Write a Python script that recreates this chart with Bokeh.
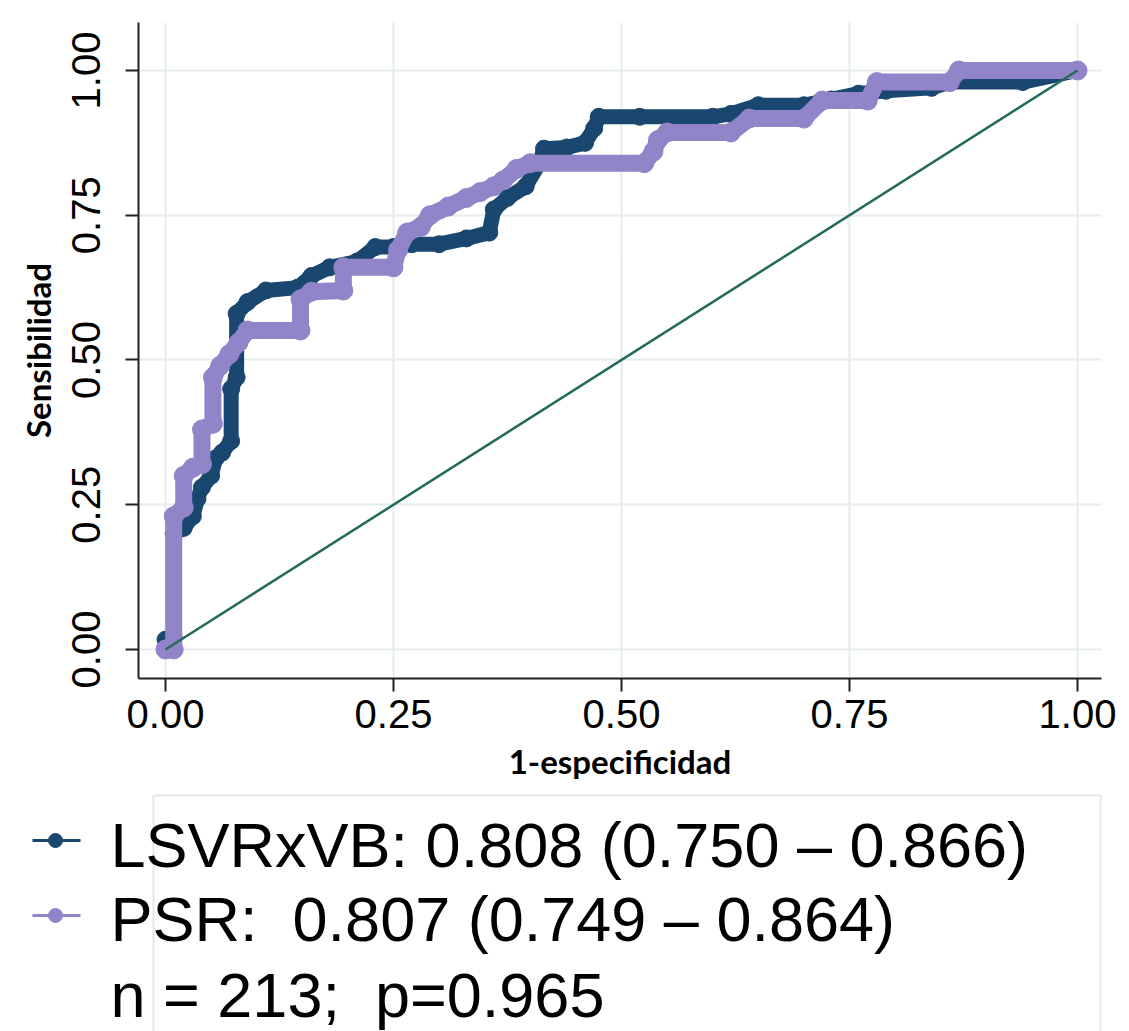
from bokeh.plotting import figure
from bokeh.layouts import column
from bokeh.models import Range1d, FixedTicker, NumeralTickFormatter
from bokeh.core.properties import value
from bokeh.embed import file_html
from bokeh.resources import INLINE

# ROC curve points (1 - specificity, sensitivity)
lsvr_fpr = [0.0, 0.0, 0.009, 0.009, 0.02, 0.03, 0.035, 0.04, 0.05, 0.055,
            0.062, 0.072, 0.072, 0.078, 0.078, 0.09, 0.11, 0.145, 0.16, 0.18,
            0.21, 0.23, 0.25, 0.27, 0.30, 0.33, 0.355, 0.36, 0.375, 0.395,
            0.41, 0.415, 0.44, 0.46, 0.47, 0.475, 0.52, 0.60, 0.62, 0.65,
            0.70, 0.73, 0.76, 0.79, 0.84, 0.86, 0.94, 1.0]
lsvr_tpr = [0.0, 0.017, 0.02, 0.20, 0.21, 0.23, 0.26, 0.28, 0.30, 0.33,
            0.34, 0.36, 0.45, 0.47, 0.58, 0.60, 0.62, 0.625, 0.645, 0.66,
            0.67, 0.695, 0.695, 0.70, 0.70, 0.71, 0.72, 0.76, 0.78, 0.80,
            0.84, 0.865, 0.867, 0.875, 0.90, 0.92, 0.92, 0.92, 0.925, 0.94,
            0.94, 0.95, 0.96, 0.965, 0.97, 0.98, 0.98, 1.0]

psr_fpr = [0.0, 0.009, 0.009, 0.02, 0.02, 0.03, 0.04, 0.04, 0.052, 0.052,
           0.06, 0.07, 0.08, 0.09, 0.148, 0.148, 0.16, 0.195, 0.195, 0.25,
           0.255, 0.265, 0.28, 0.29, 0.31, 0.33, 0.345, 0.36, 0.37, 0.385,
           0.40, 0.525, 0.535, 0.54, 0.55, 0.62, 0.64, 0.70, 0.72, 0.77,
           0.78, 0.86, 0.87, 1.0]
psr_tpr = [0.0, 0.0, 0.23, 0.245, 0.30, 0.314, 0.32, 0.38, 0.39, 0.47,
           0.49, 0.51, 0.53, 0.551, 0.551, 0.605, 0.618, 0.62, 0.66, 0.66,
           0.69, 0.72, 0.73, 0.75, 0.765, 0.78, 0.79, 0.80, 0.81, 0.83,
           0.84, 0.84, 0.86, 0.88, 0.893, 0.893, 0.917, 0.917, 0.948, 0.948,
           0.98, 0.98, 1.0, 1.0]

# reference (chance) line
ref_x = [0.0, 1.0]
ref_y = [0.0, 1.0]

axis_ticks = [0.0, 0.25, 0.5, 0.75, 1.0]

legend_lines = ["LSVRxVB: 0.808 (0.750 \u2013 0.866)",
                "PSR:\u00a0 0.807 (0.749 \u2013 0.864)",
                "n = 213;\u00a0 p=0.965"]

NAVY = "#1a476f"
LAVENDER = "#9184c9"
REF_GREEN = "#24695a"
GRID = "#e4ecee"
AXIS = "#222222"

p = figure(width=1129, height=790,
           x_range=Range1d(-0.0296, 1.0263), y_range=Range1d(-0.0501, 1.0829),
           output_backend="svg", toolbar_location=None,
           min_border_left=138, min_border_right=28,
           min_border_top=22, min_border_bottom=112)
p.frame_align = False
p.outline_line_color = None
p.background_fill_color = "white"
p.border_fill_color = "white"

for ax in (p.xaxis, p.yaxis):
    ax.ticker = FixedTicker(ticks=axis_ticks)
    ax.formatter = NumeralTickFormatter(format="0.00")
    ax.axis_line_color = AXIS
    ax.axis_line_width = 2
    ax.major_tick_line_color = AXIS
    ax.major_tick_line_width = 2
    ax.major_tick_out = 13
    ax.major_tick_in = 0
    ax.minor_tick_line_color = None
    ax.major_label_text_font = "Liberation Sans"
    ax.major_label_text_font_size = "40px"
    ax.major_label_text_color = "black"
    ax.axis_label_text_font = "Lato"
    ax.axis_label_text_font_style = "bold"
    ax.axis_label_text_font_size = "33px"
    ax.axis_label_text_color = "black"

p.xaxis.axis_label = "1-especificidad"
p.yaxis.axis_label = "Sensibilidad"
p.xaxis.major_label_standoff = 8
p.yaxis.major_label_standoff = 25
p.yaxis.major_label_orientation = "vertical"
p.xaxis.axis_label_standoff = 10
p.yaxis.axis_label_standoff = 12

for g in (p.xgrid, p.ygrid):
    g.ticker = FixedTicker(ticks=axis_ticks)
    g.grid_line_color = GRID
    g.grid_line_width = 2

p.line(lsvr_fpr, lsvr_tpr, line_width=15, color=NAVY,
       line_join="round", line_cap="round")
p.scatter(lsvr_fpr, lsvr_tpr, size=17, color=NAVY)

p.line(psr_fpr, psr_tpr, line_width=17, color=LAVENDER,
       line_join="round", line_cap="round")
p.scatter(psr_fpr, psr_tpr, size=19, color=LAVENDER)

p.line(ref_x, ref_y, line_width=2.5, color=REF_GREEN)

# legend panel underneath the plot (pixel-like coordinates, y grows downward)
q = figure(width=1129, height=241,
           x_range=Range1d(0, 1129), y_range=Range1d(241, 0),
           output_backend="svg", toolbar_location=None,
           x_axis_location=None, y_axis_location=None, min_border=0)
q.frame_align = False
q.grid.visible = False
q.outline_line_color = None
q.border_fill_color = "white"

q.quad(left=[153], right=[1100], top=[5], bottom=[300],
       fill_color=None, line_color="#e3e8ea", line_width=2)

q.line([32, 80], [50, 50], line_width=3, color=NAVY)
q.scatter([55], [50], size=14, color=NAVY)
q.line([32, 80], [125, 125], line_width=3, color=LAVENDER)
q.scatter([55], [125], size=14, color=LAVENDER)

q.text(x=[110, 110, 110], y=[54, 128, 204], text=legend_lines,
       text_font=value("Liberation Sans"), text_font_size="63px",
       text_baseline="alphabetic", text_align="left", text_color="black")

layout = column(p, q, spacing=0)
open("out.html", "w").write(file_html(layout, INLINE))
